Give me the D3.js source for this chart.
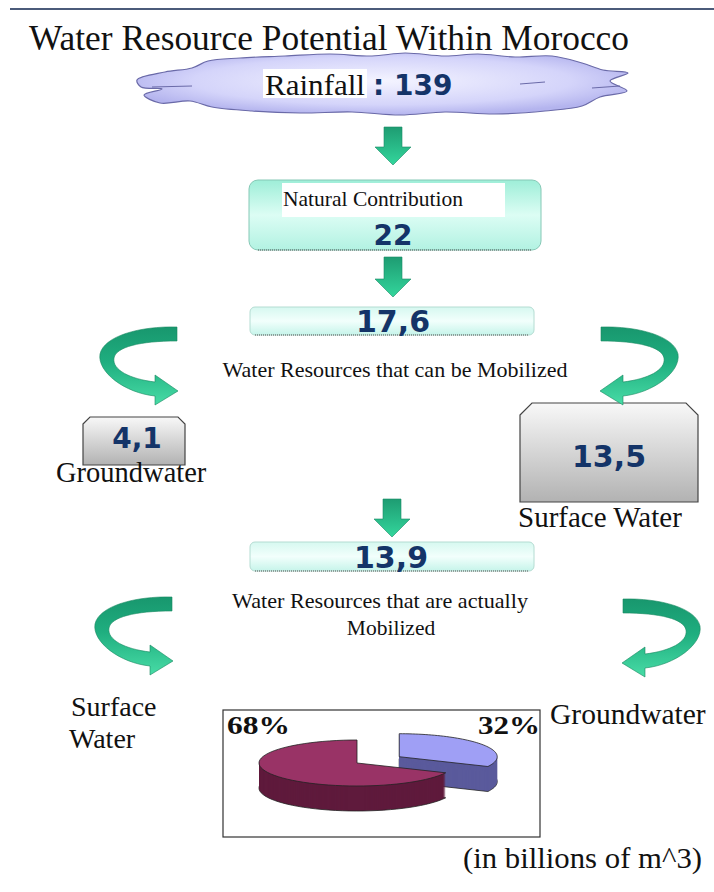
<!DOCTYPE html>
<html>
<head>
<meta charset="utf-8">
<script src="https://cdn.jsdelivr.net/npm/d3@7"></script>
<style>
  body { margin: 0; background: #fff; }
</style>
</head>
<body>
<script>
// flow of water resources, in billions of m^3
var title = "Water Resource Potential Within Morocco";
var stages = ["Rainfall", "Natural Contribution", "Water Resources that can be Mobilized",
  "Groundwater", "Surface Water", "Water Resources that are actually Mobilized"];
var stageValues = [139, 22, 17.6, 4.1, 13.5, 13.9];
// share of the mobilized water
var shareLabels = ["Surface Water", "Groundwater"];
var shareValues = [68, 32];
var unitNote = "(in billions of m^3)";

var width = 714, height = 892;
var serif = "'Liberation Serif', 'Times New Roman', serif";
var bold = "'DejaVu Sans', Verdana, sans-serif";
var navy = "#143468";

var fmt = function (v) { return String(v).replace(".", ","); };

var svg = d3.select("body").append("svg")
  .attr("width", width)
  .attr("height", height);

var defs = svg.append("defs");

function linGrad(id, stops, vertical) {
  var g = defs.append("linearGradient").attr("id", id)
    .attr("x1", 0).attr("y1", 0)
    .attr("x2", vertical ? 0 : 1).attr("y2", vertical ? 1 : 0);
  stops.forEach(function (s) {
    g.append("stop").attr("offset", s[0]).attr("stop-color", s[1]);
  });
}
linGrad("greenArrow", [["0%", "#1e9c72"], ["100%", "#33d69c"]], true);
linGrad("curveArrow", [["0%", "#18976e"], ["45%", "#1fae7f"], ["100%", "#48dca6"]], true);
linGrad("tealBox", [["0%", "#9eeed8"], ["50%", "#dcfdf4"], ["100%", "#b2f2e2"]], true);
linGrad("paleBox", [["0%", "#d6f8f0"], ["50%", "#f2fffc"], ["100%", "#c6f4ea"]], true);
linGrad("grayBox", [["0%", "#f8f8f8"], ["100%", "#b2b2b2"]], true);
var rg = defs.append("radialGradient").attr("id", "cloud")
  .attr("cx", "50%").attr("cy", "45%").attr("r", "55%");
rg.append("stop").attr("offset", "0%").attr("stop-color", "#f4f4ff");
rg.append("stop").attr("offset", "70%").attr("stop-color", "#d4d4fa");
rg.append("stop").attr("offset", "100%").attr("stop-color", "#b4b4ee");

function addText(x, y, str, size, font, opts) {
  opts = opts || {};
  var t = svg.append("text")
    .attr("x", x).attr("y", y)
    .attr("font-family", font)
    .attr("font-size", size)
    .attr("fill", opts.fill || "#111")
    .attr("text-anchor", opts.anchor || "start")
    .attr("font-weight", opts.weight || "normal")
    .text(str);
  if (opts.len) t.attr("textLength", opts.len).attr("lengthAdjust", "spacingAndGlyphs");
  return t;
}

// top rule and title
svg.append("line")
  .attr("x1", 10).attr("x2", width).attr("y1", 9).attr("y2", 9)
  .attr("stroke", "#4b5b7a").attr("stroke-width", 2);
addText(29, 50, title, 36, serif, { len: 600 });

// cloud for rainfall
var cloudPts = [[137, 80], [165, 72], [192, 68], [208, 61], [240, 58], [285, 56], [330, 54],
  [372, 56], [405, 53], [445, 56], [478, 54], [515, 57], [552, 56], [582, 63], [603, 70],
  [628, 73], [610, 81], [627, 91], [600, 97], [582, 106], [545, 111], [495, 114], [445, 112],
  [400, 115], [352, 112], [300, 113], [252, 111], [212, 107], [190, 101], [160, 103],
  [144, 95], [162, 89], [141, 87]];
svg.append("path")
  .attr("d", d3.line().curve(d3.curveCatmullRomClosed.alpha(0.5))(cloudPts))
  .attr("fill", "url(#cloud)")
  .attr("stroke", "#6a6aa8").attr("stroke-width", 1.2);
[[[152, 87], [192, 86]], [[520, 84], [545, 82]], [[592, 88], [620, 86]]].forEach(function (l) {
  svg.append("path").attr("d", d3.line()(l)).attr("stroke", "#6a6aa8").attr("fill", "none");
});

svg.append("rect").attr("x", 263).attr("y", 69).attr("width", 104).attr("height", 29).attr("fill", "#fff");
addText(265, 95, stages[0], 30, serif, { len: 100 });
addText(373, 95, ": " + fmt(stageValues[0]), 28, bold, { fill: navy, weight: "bold" });

// straight down arrows
function downArrow(cx, top, h) {
  var p = d3.path();
  p.moveTo(cx - 9, top); p.lineTo(cx + 9, top); p.lineTo(cx + 9, top + h - 18);
  p.lineTo(cx + 18, top + h - 18); p.lineTo(cx, top + h); p.lineTo(cx - 18, top + h - 18);
  p.lineTo(cx - 9, top + h - 18); p.closePath();
  svg.append("path").attr("d", p.toString())
    .attr("fill", "url(#greenArrow)").attr("stroke", "#1a8a64").attr("stroke-width", 0.6);
}
downArrow(393, 127, 38);
downArrow(393, 257, 40);
downArrow(392, 499, 38);

// rounded value boxes
function roundBox(x, y, w, h, r, fill, edge) {
  svg.append("rect").attr("x", x).attr("y", y).attr("width", w).attr("height", h)
    .attr("rx", r).attr("fill", fill).attr("stroke", edge).attr("stroke-width", 1);
  svg.append("line").attr("x1", x + r).attr("x2", x + w - r).attr("y1", y + h).attr("y2", y + h)
    .attr("stroke", "#555").attr("stroke-width", 1.2).attr("stroke-dasharray", "1,1");
}
roundBox(249, 180, 292, 70, 9, "url(#tealBox)", "#86c8b6");
svg.append("rect").attr("x", 282).attr("y", 183).attr("width", 223).attr("height", 34).attr("fill", "#fff");
addText(283, 206, stages[1], 21, serif, { len: 180 });
addText(393, 245, fmt(stageValues[1]), 28, bold, { fill: navy, weight: "bold", anchor: "middle" });

roundBox(250, 307, 284, 28, 5, "url(#paleBox)", "#b4dcd2");
addText(393, 332, fmt(stageValues[2]), 30, bold, { fill: navy, weight: "bold", anchor: "middle" });
addText(395, 377, stages[2], 21, serif, { anchor: "middle", len: 345 });

roundBox(250, 542, 284, 29, 5, "url(#paleBox)", "#b4dcd2");
addText(391, 568, fmt(stageValues[5]), 30, bold, { fill: navy, weight: "bold", anchor: "middle" });
addText(380, 608, "Water Resources that are actually", 21.5, serif, { anchor: "middle", len: 296 });
addText(391, 635, "Mobilized", 21.5, serif, { anchor: "middle" });

// chamfered gray boxes
function grayBox(x, y, w, h, c) {
  var p = d3.path();
  p.moveTo(x, y + c); p.lineTo(x + c, y); p.lineTo(x + w - c, y); p.lineTo(x + w, y + c);
  p.lineTo(x + w, y + h); p.lineTo(x, y + h); p.closePath();
  svg.append("path").attr("d", p.toString())
    .attr("fill", "url(#grayBox)").attr("stroke", "#444").attr("stroke-width", 1.2);
}
grayBox(83, 417, 102, 48, 7);
addText(137, 448, fmt(stageValues[3]), 28, bold, { fill: navy, weight: "bold", anchor: "middle" });
addText(56, 482, stages[3], 28.5, serif);

grayBox(520, 403, 178, 99, 12);
addText(609, 467, fmt(stageValues[4]), 30, bold, { fill: navy, weight: "bold", anchor: "middle" });
addText(518, 527, stages[4], 29, serif);

// curved ribbon arrows
var curveD = "M77,1 C40,0 4,10 0,28 C-3,46 25,67 55,70 L55,79 L78,65 L55,49 L55,56 " +
  "C30,53 12,44 14,32 C16,21 40,15 77,15 Z";
[["translate(100,326)"], ["translate(678,326) scale(-1,1)"],
 ["translate(95,596)"], ["translate(700,598) scale(-1,1)"]].forEach(function (t) {
  svg.append("path").attr("d", curveD).attr("transform", t[0])
    .attr("fill", "url(#curveArrow)").attr("stroke", "#17885f").attr("stroke-width", 0.6);
});

addText(71, 716, shareLabels[0].split(" ")[0], 28, serif);
addText(69, 748, shareLabels[0].split(" ")[1], 28, serif);
addText(550, 724, shareLabels[1], 29.5, serif);

// 3D pie of the mobilized shares
svg.append("rect").attr("x", 223).attr("y", 710).attr("width", 317).attr("height", 127)
  .attr("fill", "none").attr("stroke", "#333").attr("stroke-width", 1.2);

var total = d3.sum(shareValues);
var start = -2 * Math.PI * shareValues[0] / total;
var pie = d3.pie().sort(null).startAngle(start).endAngle(start + 2 * Math.PI);
var arcs = pie(shareValues);
var cx = 357, cy = 763, rx = 98, ry = 23, depth = 25, explode = 50;
var topColors = ["#993366", "#9f9ff5"];
var sideColors = ["#5f1a3c", "#5a5a9c"];

function sector(a) {
  var mid = (a.startAngle + a.endAngle) / 2;
  var off = a.index === 1 ? explode : 0;
  var ox = off * Math.sin(mid), oy = -off * Math.cos(mid) * ry / rx;
  var pts = [[cx + ox, cy + oy]];
  d3.range(0, 61).forEach(function (i) {
    var t = a.startAngle + (a.endAngle - a.startAngle) * i / 60;
    pts.push([cx + ox + rx * Math.sin(t), cy + oy - ry * Math.cos(t)]);
  });
  return d3.line()(pts) + "Z";
}

[arcs[1], arcs[0]].forEach(function (a) {
  var g = svg.append("g");
  var d = sector(a);
  g.selectAll("path.side")
    .data(d3.range(depth, 0, -1))
    .enter()
    .append("path")
    .attr("class", "side")
    .attr("d", d)
    .attr("transform", function (k) { return "translate(0," + k + ")"; })
    .attr("fill", sideColors[a.index])
    .attr("stroke", function (k) { return k === depth ? "#222" : "none"; })
    .attr("stroke-width", 0.8);
  g.append("path").attr("d", d)
    .attr("fill", topColors[a.index])
    .attr("stroke", "#222").attr("stroke-width", 0.8);
});

addText(227, 734, shareValues[0] + "%", 25, serif, { weight: "bold", len: 63 });
addText(478, 734, shareValues[1] + "%", 25, serif, { weight: "bold", len: 62 });

addText(463, 868, unitNote, 30, serif, { len: 239 });
</script>
</body>
</html>
